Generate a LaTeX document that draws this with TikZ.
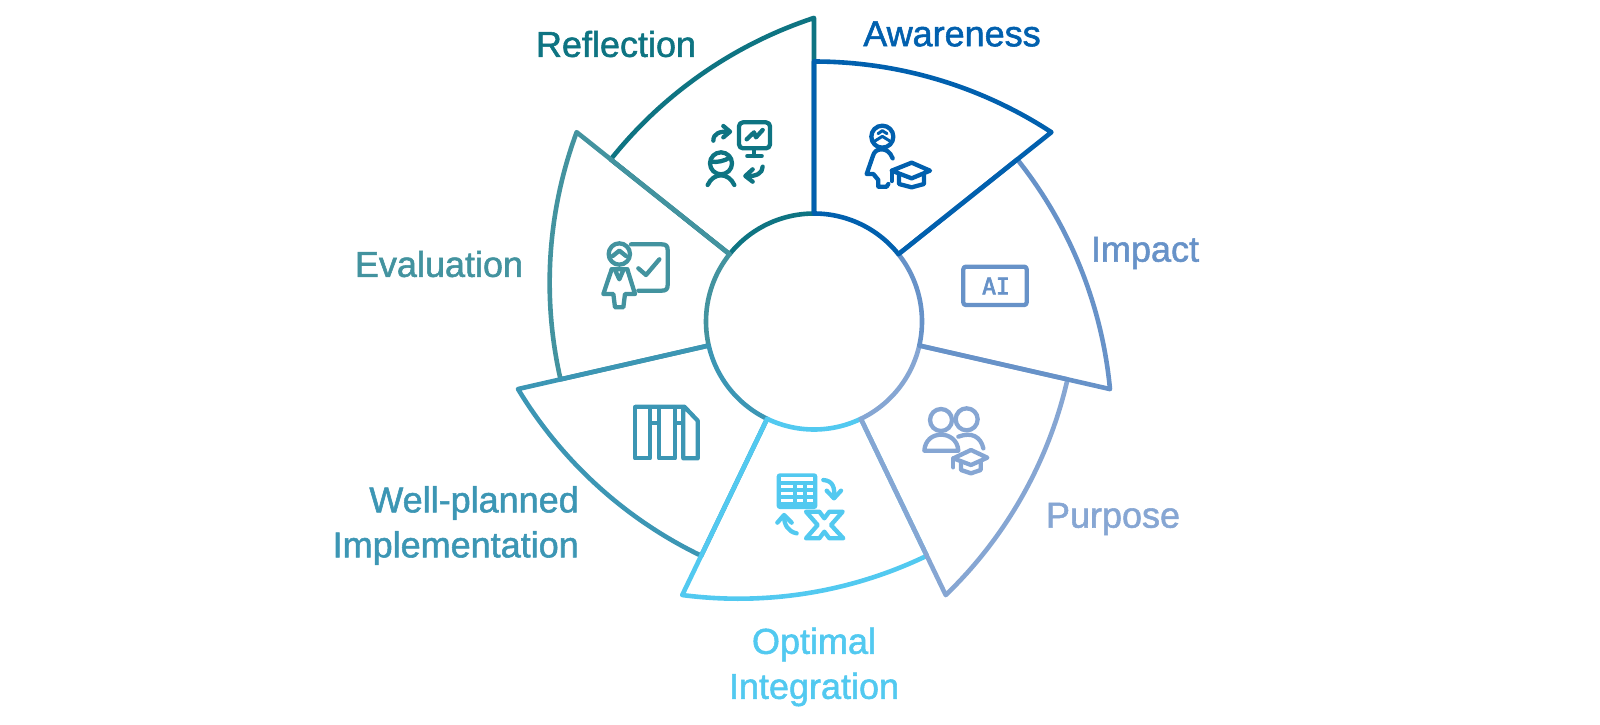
\documentclass[tikz,border=0pt]{standalone}
\usepackage{fontspec}
\setmainfont{Liberation Sans}[FakeBold=1.5]
\newfontfamily\iconfont{DejaVu Sans Mono}[FakeBold=3]
\definecolor{cAware}{HTML}{0160AE}
\definecolor{cImpact}{HTML}{6792C8}
\definecolor{cPurpose}{HTML}{86A6D3}
\definecolor{cOptimal}{HTML}{52C9F0}
\definecolor{cWell}{HTML}{3C96B4}
\definecolor{cEval}{HTML}{43939F}
\definecolor{cRefl}{HTML}{0E7482}
\tikzset{
  x=1pt,y=1pt,
  sector/.style={line width=4.6pt,line join=round},
  lab/.style={font=\fontsize{36}{45}\selectfont,inner sep=0pt,align=center},
  icon/.style={line width=4.3pt,line join=round,line cap=round,draw=#1},
  zoomed/.style 2 args={shift={(#1,-#2)},x=.33333pt,y=-.33333pt}
}
\begin{document}
\begin{tikzpicture}
\useasboundingbox (0,0) rectangle (1600,-724);
% ring of sectors: drawn so that each spoke shows the colour it has in the picture
\begin{scope}[shift={(814,-321.5)}]
\foreach \k/\c in {1/cRefl,2/cEval,3/cWell,4/cOptimal,5/cPurpose,6/cImpact,0/cAware}{
  \draw[sector,draw=\c,rotate=\k*360/7] (0,108) -- (0,260)
     arc[start angle=90,end angle=56.83,radius=433.9]
     -- (38.571:108) arc[start angle=38.571,end angle=90,radius=108] -- cycle;
}
\end{scope}
% labels
\node[lab,text=cRefl] (lr) at (616,-44) {Reflection};
\node[lab,text=cAware] (la) at (952,-34) {Awareness};
\node[lab,text=cImpact] (li) at (1145,-253) {Impact};
\node[lab,text=cPurpose] (lp) at (1113,-519) {Purpose};
\node[lab,text=cOptimal] (lo) at (814,-667) {Optimal\\Integration};
\node[lab,text=cWell,align=right,anchor=east] (lw) at (579,-525.5) {Well-planned\\Implementation};
\node[lab,text=cEval] (le) at (439,-264) {Evaluation};
% Awareness icon
\begin{scope}[zoomed={670}{100},icon=cAware]
  \draw (637,110) circle[radius=33];
  \draw[line width=3pt] (624,101) -- (637,92) -- (651,101);
  \draw[line width=3pt] (613,124) -- (637,109) -- (661,124);
  \draw (668,175) .. controls (660,155) and (648,148) .. (635,148) .. controls (620,148) and (612,155) .. (608,170) -- (590,222) -- (610,222) -- (625,240) -- (625,260) -- (650,260) -- (655,252);
  \draw (665,212) -- (725,188) -- (780,212) -- (725,235) -- cycle;
  \draw (687,225) -- (687,252) -- (725,262) -- (762,252) -- (762,225);
  \draw (665,212) -- (665,243);
\end{scope}
% Reflection icon
\begin{scope}[zoomed={670}{100},icon=cRefl]
  \draw[rounded corners=4pt] (207,67) rectangle (300,145);
  \draw (230,118) -- (252,97) -- (258,112) -- (278,90);
  \draw (253,145) -- (253,168) (232,168) -- (275,168);
  \draw (130,122) .. controls (130,100) and (150,93) .. (178,95);
  \draw (160,78) -- (180,95) -- (160,112);
  \draw (153,190) circle[radius=33];
  \draw (124,185) .. controls (140,188) and (165,183) .. (180,172);
  \draw (113,255) .. controls (122,235) and (138,226) .. (153,226) .. controls (168,226) and (184,235) .. (193,255);
  \draw (278,200) .. controls (278,220) and (258,230) .. (228,228);
  \draw (248,208) -- (226,228) -- (248,245);
\end{scope}
% Evaluation icon
\begin{scope}[zoomed={570}{220},icon=cEval]
  \draw (148,102) circle[radius=32];
  \draw (128,108) -- (148,92) -- (168,108);
  \draw (183,73) -- (275,73) .. controls (288,73) and (293,78) .. (293,90) -- (293,195) .. controls (293,207) and (288,212) .. (275,212) -- (205,212);
  \draw (205,145) -- (228,165) -- (268,118);
  \draw (125,148) -- (172,148) (135,150) -- (148,178) -- (160,150);
  \draw (125,148) -- (100,222) -- (130,222) -- (135,262) -- (160,262) -- (165,222) -- (195,222) -- (172,148);
\end{scope}
% Well-planned icon
\begin{scope}[zoomed={625}{400},icon=cWell,line cap=butt]
  \draw (30,20) -- (178,20) -- (218,62) -- (218,175) -- (175,175) -- (175,20);
  \draw (30,20) rectangle (75,175);
  \draw (102,20) rectangle (150,175);
  \draw (75,68) -- (102,68) (150,68) -- (175,68);
\end{scope}
% Impact icon
\begin{scope}[zoomed={890}{240},icon=cImpact]
  \draw[rounded corners=2.5pt] (220,80) rectangle (410,195);
\end{scope}
\node[font=\iconfont\fontsize{23}{23}\selectfont,text=cImpact,inner sep=0pt] (ai) at (996,-286) {AI};
% Purpose icon
\begin{scope}[zoomed={890}{240},icon=cPurpose]
  \draw (153,540) circle[radius=33];
  \draw (230,538) circle[radius=33];
  \draw (103,632) .. controls (105,600) and (128,584) .. (153,584) .. controls (178,584) and (203,600) .. (205,632) -- cycle;
  \draw (205,590) .. controls (245,575) and (272,590) .. (280,625);
  \draw (190,655) -- (243,630) -- (292,653) -- (243,675) -- cycle;
  \draw (213,668) -- (213,690) -- (243,700) -- (272,690) -- (272,665);
  \draw (190,655) -- (190,682);
\end{scope}
% Optimal Integration icon
\begin{scope}[zoomed={770}{470},icon=cOptimal]
  \fill[cOptimal,rounded corners=3pt] (20,10) rectangle (142,117);
  \fill[white] (33,22) rectangle (128,33);
  \foreach \y in {46,67,88}{
    \fill[white] (33,\y) rectangle (70,\y+8);
    \fill[white] (82,\y) rectangle (98,\y+8);
    \fill[white] (110,\y) rectangle (128,\y+8);
  }
  \draw (160,30) .. controls (190,32) and (195,55) .. (192,83);
  \draw (170,62) -- (192,85) -- (213,62);
  \draw (42,138) .. controls (42,165) and (55,185) .. (80,190);
  \draw (22,158) -- (42,135) -- (65,158);
  \draw (108,125) -- (148,125) -- (163,145) -- (178,125) -- (218,125) -- (183,165) -- (220,205) -- (178,205) -- (163,185) -- (148,205) -- (108,205) -- (143,165) -- cycle;
\end{scope}
\end{tikzpicture}
\end{document}
